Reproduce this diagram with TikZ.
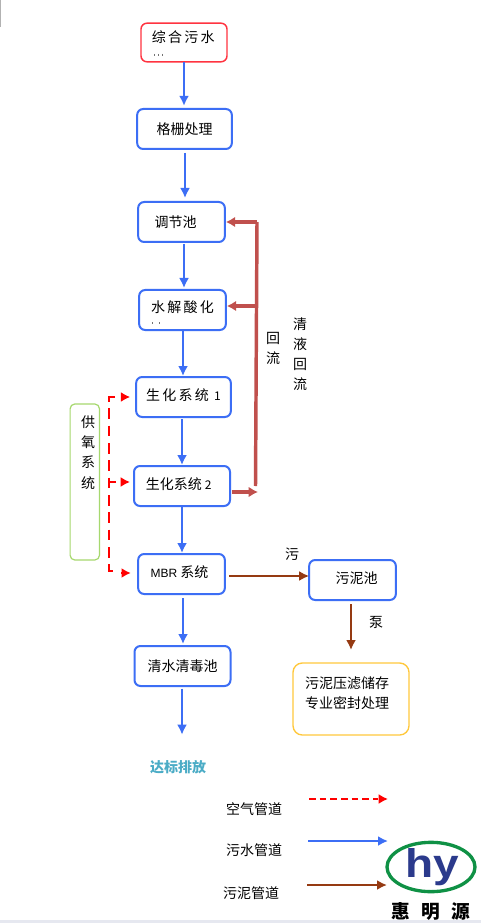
\documentclass[tikz,border=0pt]{standalone}
\usepackage{fontspec}
\usetikzlibrary{arrows.meta,shapes.geometric}
\setmainfont{Noto Sans CJK SC}
\newfontfamily\cjkwide[LetterSpace=16]{Noto Sans CJK SC}
\setsansfont{Liberation Sans}
\definecolor{bluebox}{HTML}{3C6EF5}
\definecolor{redbox}{HTML}{FF3340}
\definecolor{backflow}{HTML}{C0504D}
\definecolor{sludge}{HTML}{953A12}
\definecolor{greenbox}{HTML}{A6D86E}
\definecolor{yellowbox}{HTML}{FFC83C}
\definecolor{teal2}{HTML}{4BACC6}
\definecolor{logogreen}{HTML}{0F9145}
\definecolor{logonavy}{HTML}{2B3A8C}
\definecolor{edgegrey}{HTML}{E6E8F0}
\tikzset{
  x=0.75pt,y=-0.75pt,
  every node/.style={font=\fontsize{10.5}{13}\selectfont,inner sep=0pt,outer sep=0pt},
  procbox/.style={draw=bluebox,line width=1.5pt,rounded corners=4.5pt,fill=white},
  bluearrow/.style={draw=bluebox,line width=1.6pt,-{Latex[length=7.5pt,width=7.5pt]}},
  backarrow/.style={draw=backflow,line width=2.4pt,-{Latex[length=7pt,width=8pt]}},
  backline/.style={draw=backflow,line width=2.6pt},
  brownarrow/.style={draw=sludge,line width=1.6pt,-{Latex[length=7.5pt,width=7.5pt]}},
  airline/.style={draw=red,line width=2.1pt,dash pattern=on 8pt off 5pt},
  airtip/.style={draw=red,line width=1.6pt,-{Latex[length=7pt,width=7.5pt]}},
}
\begin{document}
\begin{tikzpicture}
\useasboundingbox (0,0) rectangle (481,923);
\fill[white] (0,0) rectangle (481,923);
\fill[black!30] (0,0) rectangle (1,27);
\fill[edgegrey] (0,920) rectangle (481,923);
% process boxes
\node[draw=redbox,line width=1.1pt,rounded corners=4.5pt,minimum width=64.5pt,minimum height=29pt,
  label={[xshift=-0.5pt,yshift=4pt]center:{\cjkwide 综合污水}}] (src) at (184,42.5) {};
\node[procbox,minimum width=71pt,minimum height=30pt,label={center:格栅处理}] (grid) at (184.5,129) {};
\node[procbox,minimum width=65pt,minimum height=30pt,label={[xshift=-4.5pt,yshift=0pt]center:调节池}] (adj) at (181.5,222) {};
\node[procbox,minimum width=65pt,minimum height=30pt,label={[yshift=2.2pt]center:{\cjkwide 水解酸化}}] (hyd) at (182.5,310) {};
\node[procbox,minimum width=71pt,minimum height=30pt,label={[yshift=1.5pt]center:{\cjkwide 生化系统 \fontsize{9}{11}\selectfont 1}}] (bio1) at (183.5,397) {};
\node[procbox,minimum width=72pt,minimum height=30pt,label={[xshift=-2.5pt,yshift=1.5pt]center:生化系统 {\fontsize{9}{11}\selectfont 2}}] (bio2) at (182,486) {};
\node[procbox,minimum width=65pt,minimum height=30pt,label={[xshift=-1.5pt,yshift=1.5pt]center:{\fontsize{9}{11}\selectfont\sffamily MBR} 系统}] (mbr) at (181.5,574) {};
\node[procbox,minimum width=65pt,minimum height=30pt,label={[xshift=3pt,yshift=1pt]center:污泥池}] (pool) at (352.5,580) {};
\node[procbox,minimum width=72pt,minimum height=30pt,label={center:清水清毒池}] (clean) at (182.5,666) {};
\node[draw=yellowbox,line width=1pt,rounded corners=7pt,minimum width=87pt,minimum height=54pt] (press) at (351,699) {};
\node[align=center] (presstxt) at (347,693) {污泥压滤储存\\[2pt]专业密封处理};
\node[draw=greenbox,line width=0.9pt,rounded corners=3.5pt,minimum width=22pt,minimum height=117pt] (oxy) at (84.8,482) {};
\node[align=center,font=\fontsize{10.5}{15.2}\selectfont] (oxytxt) at (88,452.5) {供\\氧\\系\\统};
% clipped remnants of second text lines
\draw[black!55,line width=0.5pt] (154,54) -- (154,56) (158,54) -- (158,56) (162,54) -- (162,56);
\draw[black!55,line width=0.5pt] (152,322) -- (152,324) (159,322) -- (159,324);
% free labels
\node[text=teal2,font=\fontsize{10.5}{13}\bfseries\selectfont] (out) at (178,767) {达标排放};
\node[align=center,font=\fontsize{10.5}{15.4}\selectfont] (ret1) at (273,348.5) {回\\流};
\node[align=center,font=\fontsize{10.5}{15}\selectfont] (ret2) at (300,354.5) {清\\液\\回\\流};
\node (wu) at (292,554) {污};
\node (beng) at (376,622) {泵};
\node (lg1) at (254,809) {空气管道};
\node (lg2) at (254,850) {污水管道};
\node (lg3) at (251,893) {污泥管道};
% main flow
\draw[bluearrow] (src.south) -- ++(0,44);
\draw[bluearrow] ([yshift=-3pt]grid.south) ++(0.5,0) -- ++(0,45);
\draw[bluearrow] ([yshift=-1.5pt]adj.south) ++(2.5,0) -- ++(0,44);
\draw[bluearrow] (hyd.south) ++(0.5,0) -- ++(0,46);
\draw[bluearrow] ([yshift=-1.5pt]bio1.south) ++(-1.5,0) -- ++(0,46);
\draw[bluearrow] (bio2.south) -- ++(0,47);
\draw[bluearrow] ([yshift=-3pt]mbr.south) ++(1.5,0) -- ++(0,46);
\draw[bluearrow] ([yshift=-2pt]clean.south) ++(-0.5,0) -- ++(0,46);
% return line
\coordinate (rt) at (257,222);
\coordinate (rm) at (256.5,306);
\coordinate (rb) at (255.5,486);
\coordinate (bs) at (232,492);
\coordinate (be) at (258,492);
\draw[backline] (rt) -- (rb);
\draw[backarrow] (rt) -- ([xshift=0.75pt]adj.east |- rt);
\draw[backarrow] (rm) -- ([xshift=0.75pt]hyd.east |- rm);
\draw[backarrow] (bs) -- (be);
% sludge
\coordinate (ms) at (229,576);
\coordinate (ps) at (351,604);
\coordinate (pe) at (351,650);
\draw[brownarrow] (ms) -- (pool.west |- ms);
\draw[brownarrow] (ps) -- (pe);
% air
\coordinate (a1) at (109,397);
\coordinate (a2) at (109,571);
\coordinate (a3) at (115,397);
\coordinate (a4) at (115,571);
\coordinate (a5) at (109,482);
\coordinate (a6) at (116,482);
\coordinate (t1) at (121,397);
\coordinate (t2) at (121,482);
\coordinate (t3) at (121,573);
\coordinate (t2e) at (130,482);
\draw[airline] (a3) -- (a1) -- (a2) -- (a4);
\draw[airline] (a5) -- (a6);
\draw[airtip] (t1) -- ([xshift=-4.5pt]bio1.west |- t1);
\draw[airtip] (t2) -- (t2e);
\draw[airtip] (t3) -- ([xshift=-5.5pt]mbr.west |- t3);
% legend
\coordinate (l1a) at (309,799);
\coordinate (l1b) at (378,799);
\coordinate (l1c) at (379,799);
\coordinate (l1d) at (388,799);
\coordinate (l2a) at (308,841);
\coordinate (l2b) at (388,841);
\coordinate (l3a) at (307,885);
\coordinate (l3b) at (387,885);
\draw[draw=red,line width=1.4pt,dash pattern=on 5pt off 3pt] (l1a) -- (l1b);
\draw[airtip] (l1c) -- (l1d);
\draw[bluearrow] (l2a) -- (l2b);
\draw[brownarrow] (l3a) -- (l3b);
% logo
\node[draw=logogreen,line width=2.5pt,ellipse,minimum width=66pt,minimum height=37pt] (logo) at (431,867) {};
\node[text=logonavy,font=\fontsize{30}{30}\bfseries\selectfont\sffamily,xscale=1.15] (hy) at (432.5,867) {hy};
\node[font=\fontsize{14}{16}\bfseries\selectfont] (hm) at (430.5,911) {惠\hspace{8.5pt}明\hspace{8.5pt}源};
\end{tikzpicture}
\end{document}
